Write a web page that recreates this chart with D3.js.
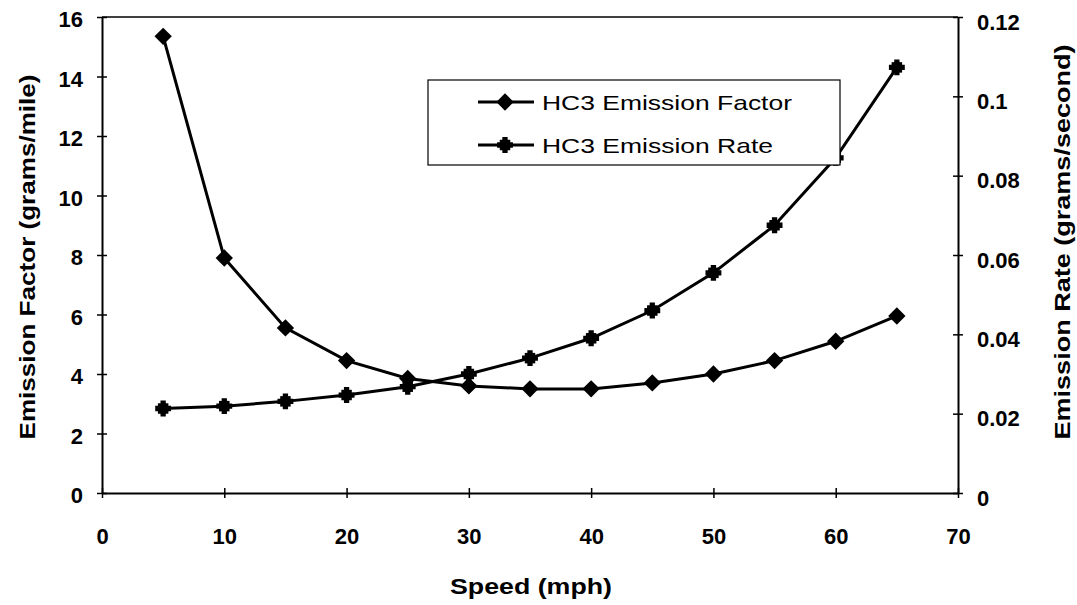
<!DOCTYPE html>
<html><head><meta charset="utf-8">
<script src="https://cdn.jsdelivr.net/npm/d3@7"></script>
<style>body{margin:0;background:#fff}text{font-family:Arial,"Liberation Sans",sans-serif}</style>
</head><body>
<svg id="c" width="1077" height="605"></svg>
<script>
const speeds = [5,10,15,20,25,30,35,40,45,50,55,60,65];
const emissionFactor = [15.35,7.9,5.55,4.45,3.85,3.6,3.5,3.5,3.7,4.0,4.45,5.1,5.95];
const emissionRate = [0.0213,0.0219,0.0231,0.0247,0.0268,0.030,0.034,0.039,0.046,0.0555,0.0675,0.0845,0.1073];
const xTicks = [0,10,20,30,40,50,60,70];
const leftTicks = [0,2,4,6,8,10,12,14,16];
const rightTicks = [0,0.02,0.04,0.06,0.08,0.1,0.12];
const seriesNames = ["HC3 Emission Factor","HC3 Emission Rate"];

const svg = d3.select("#c");
const m = {l:102, r:958, t:17, b:493};
const x = d3.scaleLinear().domain([0,70]).range([m.l,m.r]);
const yL = d3.scaleLinear().domain([0,16]).range([m.b,m.t]);
const yR = d3.scaleLinear().domain([0,0.12]).range([m.b,m.t]);

svg.append("line").attr("x1",m.l).attr("x2",m.r).attr("y1",m.t).attr("y2",m.t).attr("stroke","#000").attr("stroke-width",1.5);

function styleAxis(g){
  g.select(".domain").attr("stroke","#000").attr("stroke-width",2);
  g.selectAll(".tick line").attr("stroke","#000").attr("stroke-width",1.5);
  g.selectAll(".tick text").attr("font-size",22).attr("font-weight","bold").attr("fill","#000")
   .attr("font-family","Arial, 'Liberation Sans', sans-serif");
}
const gx = svg.append("g").attr("transform",`translate(0,${m.b})`)
  .call(d3.axisBottom(x).tickValues(xTicks).tickSize(5).tickPadding(30).tickSizeOuter(0));
gx.selectAll(".tick line").attr("y1",-5);
styleAxis(gx);

const gl = svg.append("g").attr("transform",`translate(${m.l},0)`)
  .call(d3.axisLeft(yL).tickValues(leftTicks).tickSize(5).tickPadding(14).tickSizeOuter(0));
gl.selectAll(".tick line").attr("x1",5);
styleAxis(gl);
gl.selectAll(".tick text").attr("dy","0.45em");

const gr = svg.append("g").attr("transform",`translate(${m.r},0)`)
  .call(d3.axisRight(yR).tickValues(rightTicks).tickFormat(d=>d===0?"0":String(+d.toFixed(2))).tickSize(5).tickPadding(14).tickSizeOuter(0));
gr.selectAll(".tick line").attr("x1",-5);
styleAxis(gr);
gr.selectAll(".tick text").attr("dy","0.55em");

// axis titles
svg.append("text").attr("transform",`translate(35,257) rotate(-90)`).attr("text-anchor","middle")
  .attr("font-size",22).attr("font-weight","bold").attr("textLength",365).attr("lengthAdjust","spacingAndGlyphs")
  .text("Emission Factor (grams/mile)");
svg.append("text").attr("transform",`translate(1070,242) rotate(-90)`).attr("text-anchor","middle")
  .attr("font-size",22).attr("font-weight","bold").attr("textLength",395).attr("lengthAdjust","spacingAndGlyphs")
  .text("Emission Rate (grams/second)");
svg.append("text").attr("x",531).attr("y",594).attr("text-anchor","middle")
  .attr("font-size",22).attr("font-weight","bold").attr("textLength",162).attr("lengthAdjust","spacingAndGlyphs")
  .text("Speed (mph)");

// lines
const efData = speeds.map((s,i)=>[s,emissionFactor[i]]);
const erData = speeds.map((s,i)=>[s,emissionRate[i]]);
svg.append("path").datum(efData).attr("fill","none").attr("stroke","#000").attr("stroke-width",3)
  .attr("d",d3.line().x(d=>x(d[0])).y(d=>yL(d[1])));
svg.append("path").datum(erData).attr("fill","none").attr("stroke","#000").attr("stroke-width",3)
  .attr("d",d3.line().x(d=>x(d[0])).y(d=>yR(d[1])));

const diamond = d3.symbol().type(d3.symbolSquare).size(150);
const square = d3.symbol().type(d3.symbolSquare).size(110);
const cross = d3.symbol().type(d3.symbolCross).size(140);
svg.append("g").selectAll("path").data(efData).join("path")
  .attr("transform",d=>`translate(${x(d[0])},${yL(d[1])}) rotate(45)`).attr("d",diamond).attr("fill","#000");
const er = svg.append("g").selectAll("g").data(erData).join("g")
  .attr("transform",d=>`translate(${x(d[0])},${yR(d[1])})`);
er.append("path").attr("d",square).attr("fill","#000");
er.append("path").attr("d",cross).attr("fill","#000");

// legend
const lg = svg.append("g");
lg.append("rect").attr("x",428).attr("y",80).attr("width",412).attr("height",85)
  .attr("fill","#fff").attr("stroke","#000").attr("stroke-width",1.2);
const legendLens = [250,231];
seriesNames.forEach((n,i)=>{
  const yy = 102 + i*43;
  lg.append("line").attr("x1",478).attr("x2",534).attr("y1",yy).attr("y2",yy).attr("stroke","#000").attr("stroke-width",3);
  if(i===0) lg.append("path").attr("transform",`translate(505,${yy}) rotate(45)`).attr("d",diamond).attr("fill","#000");
  else { lg.append("path").attr("transform",`translate(505,${yy})`).attr("d",square).attr("fill","#000");
         lg.append("path").attr("transform",`translate(505,${yy})`).attr("d",cross).attr("fill","#000"); }
  lg.append("text").attr("x",542).attr("y",yy+8).attr("font-size",21).attr("fill","#000")
    .attr("textLength",legendLens[i]).attr("lengthAdjust","spacingAndGlyphs").text(n);
});
</script>
</body></html>
